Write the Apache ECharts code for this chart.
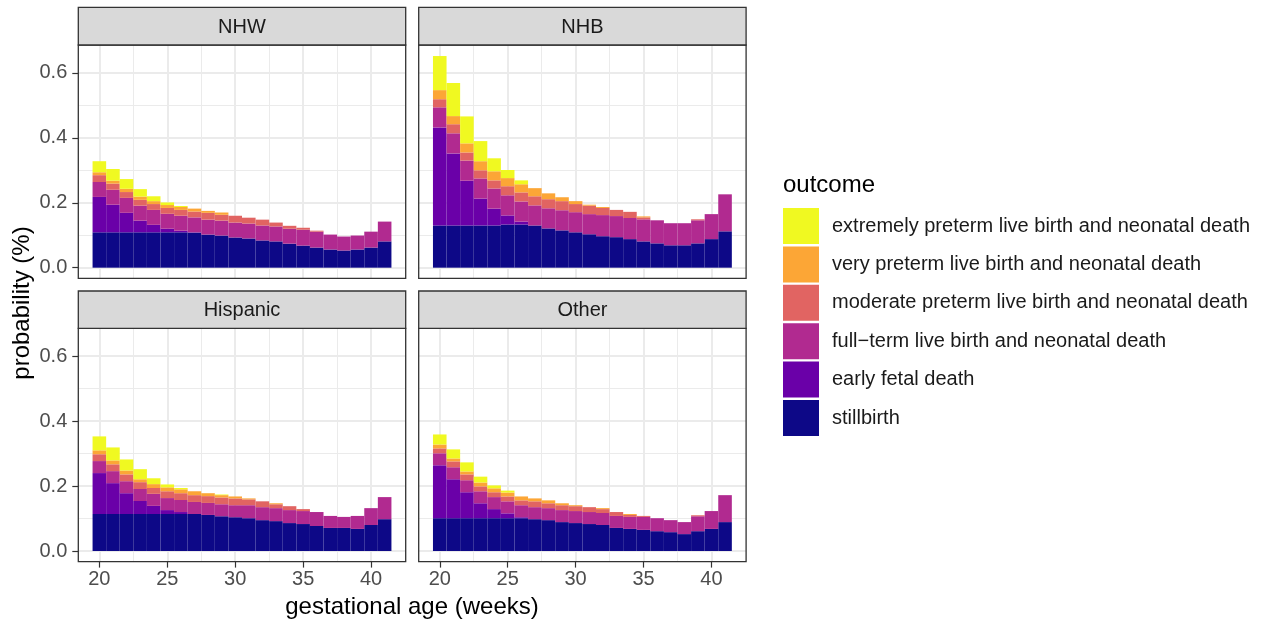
<!DOCTYPE html>
<html><head><meta charset="utf-8">
<script src="https://cdn.jsdelivr.net/npm/echarts@6/dist/echarts.min.js"></script>
<style>html,body{margin:0;padding:0;background:#fff}#c{width:1263px;height:625px}</style>
</head><body><div id="c"></div>
<script>
// ---- data ----
const weeks = [20,21,22,23,24,25,26,27,28,29,30,31,32,33,34,35,36,37,38,39,40,41];
const panels = ['NHW','NHB','Hispanic','Other'];
const outcomes = [
  'extremely preterm live birth and neonatal death',
  'very preterm live birth and neonatal death',
  'moderate preterm live birth and neonatal death',
  'full\u2212term live birth and neonatal death',
  'early fetal death',
  'stillbirth'
];
// NHW
const nhwStillbirth = [.109,.109,.109,.109,.109,.109,.109,.108,.102,.099,.093,.090,.084,.081,.074,.068,.062,.056,.053,.056,.062,.081];
const nhwEarlyFetal = [.109,.085,.060,.036,.023,.011,.005,.001,0,0,0,0,0,0,0,0,0,0,0,0,0,0];
const nhwFullTerm   = [.046,.046,.046,.046,.046,.046,.046,.046,.046,.046,.046,.046,.046,.046,.046,.049,.049,.046,.043,.043,.049,.061];
const nhwModerate   = [.021,.019,.018,.018,.018,.018,.018,.018,.021,.018,.021,.018,.018,.012,.009,.006,.003,0,0,0,0,0];
const nhwVery       = [.009,.009,.010,.010,.009,.009,.009,.009,.006,.007,0,0,0,0,0,0,0,0,0,0,0,0];
const nhwExtremely  = [.034,.036,.030,.023,.015,.008,.003,0,0,0,0,0,0,0,0,0,0,0,0,0,0,0];
// NHB
const nhbStillbirth = [.130,.130,.130,.130,.130,.133,.133,.130,.121,.115,.109,.103,.097,.094,.088,.081,.075,.069,.069,.075,.088,.112];
const nhbEarlyFetal = [.302,.222,.138,.083,.052,.028,.009,0,0,0,0,0,0,0,0,0,0,0,0,0,0,0];
const nhbFullTerm   = [.062,.062,.062,.062,.062,.062,.062,.062,.062,.062,.062,.062,.065,.065,.065,.068,.071,.068,.068,.071,.077,.114];
const nhbModerate   = [.025,.028,.025,.025,.025,.028,.028,.028,.028,.028,.025,.026,.022,.019,.019,.006,0,0,0,.003,0,0];
const nhbVery       = [.028,.025,.028,.028,.028,.025,.025,.025,.018,.012,.009,.003,.003,0,0,.003,0,0,0,0,0,0];
const nhbExtremely  = [.105,.102,.083,.062,.040,.025,.012,0,0,0,0,0,0,0,0,0,0,0,0,0,0,0];
// Hispanic
const hisStillbirth = [.114,.114,.114,.114,.114,.114,.114,.114,.111,.107,.104,.101,.095,.092,.086,.083,.077,.071,.071,.068,.080,.098];
const hisEarlyFetal = [.126,.095,.064,.040,.025,.012,.006,0,0,0,0,0,0,0,0,0,0,0,0,0,0,0];
const hisFullTerm   = [.037,.037,.037,.037,.037,.037,.037,.037,.037,.037,.037,.040,.040,.040,.040,.040,.043,.037,.034,.040,.052,.068];
const hisModerate   = [.021,.021,.021,.021,.018,.021,.021,.021,.021,.021,.021,.018,.018,.012,.012,.006,0,0,0,0,0,0];
const hisVery       = [.012,.012,.012,.009,.012,.012,.012,.012,.009,.007,.006,.003,0,.003,0,0,0,0,0,0,0,0];
const hisExtremely  = [.043,.040,.034,.031,.018,.009,.004,0,0,.002,0,0,0,0,0,0,0,0,0,0,0,0];
// Other
const othStillbirth = [.101,.101,.101,.101,.101,.101,.101,.098,.095,.089,.086,.083,.080,.071,.068,.065,.061,.058,.052,.061,.068,.089];
const othEarlyFetal = [.163,.120,.080,.046,.028,.015,.003,0,0,0,0,0,0,0,0,0,0,0,0,0,0,0];
const othFullTerm   = [.037,.037,.037,.037,.037,.037,.037,.037,.037,.037,.037,.037,.037,.037,.037,.040,.040,.037,.037,.046,.055,.083];
const othModerate   = [.015,.018,.018,.015,.015,.015,.015,.018,.015,.015,.015,.015,.012,.012,.006,.003,0,0,0,.003,0,0];
const othVery       = [.012,.009,.009,.012,.012,.012,.012,.009,.009,.006,.003,0,.003,0,.003,0,0,0,0,0,0,0];
const othExtremely  = [.031,.028,.028,.018,.009,.006,0,0,0,0,0,0,0,0,0,0,0,0,0,0,0,0];

const yTickLabels = [0, 0.2, 0.4, 0.6];
const yMinorTicks = [0.1, 0.3, 0.5];
const xTickLabels = [20, 25, 30, 35, 40];
const xMinorTicks = [22.5, 27.5, 32.5, 37.5];

// ---- build ----
const panelData = [
  [nhwStillbirth, nhwEarlyFetal, nhwFullTerm, nhwModerate, nhwVery, nhwExtremely],
  [nhbStillbirth, nhbEarlyFetal, nhbFullTerm, nhbModerate, nhbVery, nhbExtremely],
  [hisStillbirth, hisEarlyFetal, hisFullTerm, hisModerate, hisVery, hisExtremely],
  [othStillbirth, othEarlyFetal, othFullTerm, othModerate, othVery, othExtremely]
];
const stackNames = ['stillbirth','early fetal death','full\u2212term live birth and neonatal death',
  'moderate preterm live birth and neonatal death','very preterm live birth and neonatal death',
  'extremely preterm live birth and neonatal death'];
const colors = ['#0D0887','#6A00A8','#B12A90','#E16462','#FCA636','#F0F921'];
const FONT = 'Liberation Sans, Arial, sans-serif';
const FS = 20;

const PW = 327.4, PH = 233.3;
const rects = [
  {left: 78.3, top: 45}, {left: 418.7, top: 45},
  {left: 78.3, top: 328.3}, {left: 418.7, top: 328.3}
];
const stripTops = [7.3, 7.3, 291, 291];

const grids = [], xAxes = [], yAxes = [], series = [], graphics = [];
rects.forEach((r, i) => {
  grids.push({left: r.left, top: r.top, width: PW, height: PH, show: true, z: 20,
    backgroundColor: 'transparent', borderColor: '#333333', borderWidth: 1.3, containLabel: false});
  const bottomRow = i >= 2, leftCol = i % 2 === 0;
  xAxes.push({type: 'value', gridIndex: i, min: 18.45, max: 42.55,
    axisLine: {show: false, onZero: false},
    splitLine: {show: false},
    axisTick: {show: bottomRow, length: 6, lineStyle: {color: '#333333', width: 1.2}, customValues: xTickLabels},
    axisLabel: {show: bottomRow, customValues: xTickLabels, margin: 8, color: '#4D4D4D', fontSize: FS, fontFamily: FONT}
  });
  yAxes.push({type: 'value', gridIndex: i, min: -0.0327, max: 0.686,
    axisLine: {show: false, onZero: false},
    splitLine: {show: false},
    axisTick: {show: leftCol, length: 6, lineStyle: {color: '#333333', width: 1.2}, customValues: yTickLabels},
    axisLabel: {show: leftCol, customValues: yTickLabels, margin: 11, color: '#4D4D4D', fontSize: FS, fontFamily: FONT,
      formatter: v => v.toFixed(1)}
  });
  // gridlines
  const ml = [];
  yTickLabels.forEach(v => ml.push({yAxis: v, lineStyle: {width: 2}}));
  yMinorTicks.forEach(v => ml.push({yAxis: v, lineStyle: {width: 1}}));
  xTickLabels.forEach(v => ml.push({xAxis: v, lineStyle: {width: 2}}));
  xMinorTicks.forEach(v => ml.push({xAxis: v, lineStyle: {width: 1}}));
  series.push({type: 'line', xAxisIndex: i, yAxisIndex: i, data: [[20, 0]], showSymbol: false,
    lineStyle: {opacity: 0}, silent: true, z: 1, animation: false,
    markLine: {silent: true, symbol: ['none','none'], label: {show: false}, animation: false,
      lineStyle: {type: 'solid', color: '#EBEBEB'}, emphasis: {disabled: true}, data: ml}});
  panelData[i].forEach((arr, k) => {
    series.push({type: 'bar', name: stackNames[k], stack: 'p' + i, stackStrategy: 'all',
      xAxisIndex: i, yAxisIndex: i,
      data: weeks.map((w, j) => [arr[j], w]), encode: {x: 1, y: 0},
      barWidth: '100%', z: 10,
      itemStyle: {color: colors[k]}, emphasis: {disabled: true}, animation: false});
  });
  // strip
  graphics.push({type: 'rect', z: 30, shape: {x: r.left, y: stripTops[i], width: PW, height: r.top - stripTops[i]},
    style: {fill: '#D9D9D9', stroke: '#333333', lineWidth: 1.3}});
  graphics.push({type: 'text', z: 31, x: r.left + PW / 2, y: (stripTops[i] + r.top) / 2 + 1,
    style: {text: panels[i], fill: '#1A1A1A', font: FS + 'px ' + FONT, align: 'center', verticalAlign: 'middle'}});
});

graphics.push({type: 'text', x: 412, y: 607,
  style: {text: 'gestational age (weeks)', fill: '#000', font: '24px ' + FONT, align: 'center', verticalAlign: 'middle'}});
graphics.push({type: 'text', x: 22, y: 303, rotation: Math.PI / 2,
  style: {text: 'probability (%)', fill: '#000', font: '24px ' + FONT, align: 'center', verticalAlign: 'middle'}});
graphics.push({type: 'text', x: 783, y: 185,
  style: {text: 'outcome', fill: '#000', font: '24px ' + FONT, align: 'left', verticalAlign: 'middle'}});

const chart = echarts.init(document.getElementById('c'), null, {renderer: 'canvas'});
chart.setOption({
  backgroundColor: '#ffffff',
  animation: false,
  grid: grids, xAxis: xAxes, yAxis: yAxes, series: series,
  legend: {orient: 'vertical', left: 778, top: 203, itemWidth: 36, itemHeight: 36, itemGap: 2.4,
    icon: 'rect', data: outcomes, selectedMode: false,
    textStyle: {fontSize: FS, color: '#1A1A1A', fontFamily: FONT, padding: [0, 0, 0, 8]}},
  graphic: graphics
});
</script></body></html>
